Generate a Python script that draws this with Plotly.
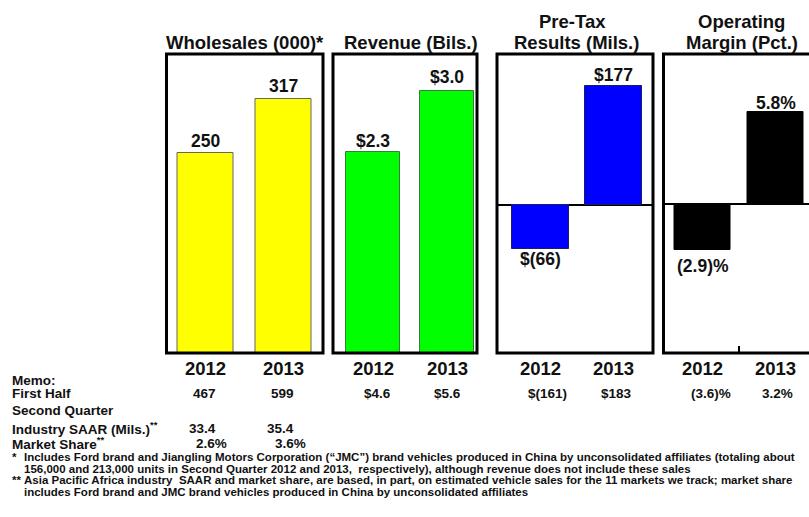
import plotly.graph_objects as go

W, H = 809, 517
FONT = "Liberation Sans, Arial, sans-serif"

# ---------------- data ----------------
years = ["2012", "2013"]
wholesales = [250, 317]
revenue = [2.3, 3.0]
pretax = [-66, 177]
margin = [-2.9, 5.8]

wholesales_text = ["250", "317"]
revenue_text = ["$2.3", "$3.0"]
pretax_text = ["$(66)", "$177"]
margin_text = ["(2.9)%", "5.8%"]

first_half_wholesales = ["467", "599"]
first_half_revenue = ["$4.6", "$5.6"]
first_half_pretax = ["$(161)", "$183"]
first_half_margin = ["(3.6)%", "3.2%"]

q2_saar = ["33.4", "35.4"]
q2_share = ["2.6%", "3.6%"]

titles = [["Wholesales (000)*"], ["Revenue (Bils.)"],
          ["Pre-Tax", "Results (Mils.)"], ["Operating", "Margin (Pct.)"]]
memo_labels = ["Memo:", "First Half", "Second Quarter",
               "Industry SAAR (Mils.)<sup>**</sup>", "Market Share<sup>**</sup>"]
footnote_marks = ["*", "", "**", ""]
footnotes = [
    "Includes Ford brand and Jiangling Motors Corporation (\u201cJMC\u201d) brand vehicles produced in China by unconsolidated affiliates (totaling about",
    "156,000 and 213,000 units in Second Quarter 2012 and 2013,  respectively), although revenue does not include these sales",
    "Asia Pacific Africa industry  SAAR and market share, are based, in part, on estimated vehicle sales for the 11 markets we track; market share",
    "includes Ford brand and JMC brand vehicles produced in China by unconsolidated affiliates",
]

series = [wholesales, revenue, pretax, margin]
series_text = [wholesales_text, revenue_text, pretax_text, margin_text]
first_half = [first_half_wholesales, first_half_revenue, first_half_pretax, first_half_margin]

# ---------------- layout geometry (pixels) ----------------
frames = [(166.5, 323), (333, 477), (497, 653), (663.5, 809)]
centers = [(205, 283.5), (373, 447), (540.5, 613), (702.5, 775.5)]
bar_px = [56, 54, 57, 56]
yranges = [(0, 373.75), (0, 3.42), (-220.9, 225.4), (-9.37, 9.43)]
colors = ["#FFFF00", "#00FF00", "#0000FF", "#000000"]
outline = ["#666666", "#3a7a3a", "#1a1a66", "#000000"]
TOP, BOT = 54, 353
title_pos = [[(245, 43)], [(411, 43)], [(572.5, 21), (576, 43)], [(741.5, 21), (741.5, 43)]]
label_shift = [[12, 13], [11, 14], [-10, 11], [-16, 9]]
fh_shift = [[-1, -1], [4, 0], [6.5, 3], [8.5, 2]]

fig = go.Figure()
layout = dict(width=W, height=H, margin=dict(l=0, r=0, t=0, b=0),
              paper_bgcolor="white", plot_bgcolor="white", showlegend=False,
              bargap=0)
annotations = []
shapes = []

def px(x):
    return x / W

def py(y):
    return 1 - y / H

for i in range(4):
    L, R = frames[i]
    c0, c1 = centers[i]
    step = c1 - c0
    r0 = -(c0 - L) / step
    r1 = r0 + (R - L) / step
    xa = "x" if i == 0 else f"x{i+1}"
    ya = "y" if i == 0 else f"y{i+1}"
    xkey = "xaxis" if i == 0 else f"xaxis{i+1}"
    ykey = "yaxis" if i == 0 else f"yaxis{i+1}"
    fig.add_trace(go.Bar(
        x=[0, 1], y=series[i], width=bar_px[i] / step,
        marker=dict(color=colors[i], line=dict(color=outline[i], width=1)),
        xaxis=xa, yaxis=ya, hoverinfo="skip"))
    layout[xkey] = dict(domain=[px(L), px(R)], range=[r0, r1], showgrid=False,
                        zeroline=False, showticklabels=False, ticks="",
                        fixedrange=True, anchor=ya)
    layout[ykey] = dict(domain=[py(BOT), py(TOP)], range=list(yranges[i]),
                        showgrid=False, showticklabels=False, ticks="",
                        zeroline=(i >= 2), zerolinecolor="black", zerolinewidth=2,
                        fixedrange=True, anchor=xa)
    # value labels
    for j in range(2):
        annotations.append(dict(
            x=j, y=series[i][j], xref=xa, yref=ya, text=series_text[i][j],
            showarrow=False, yanchor="middle", yshift=label_shift[i][j],
            font=dict(family=FONT, size=17.5, color="#111111", weight="bold")))
        annotations.append(dict(
            x=j, y=py(368), xref=xa, yref="paper", text=years[j],
            showarrow=False, yanchor="middle",
            font=dict(family=FONT, size=18.5, color="#111111", weight="bold")))
        annotations.append(dict(
            x=j, y=py(393), xref=xa, yref="paper", text=first_half[i][j],
            showarrow=False, yanchor="middle", xshift=fh_shift[i][j],
            font=dict(family=FONT, size=13.5, color="#111111", weight="bold")))
    # titles
    for t, (tx, ty) in zip(titles[i], title_pos[i]):
        annotations.append(dict(
            x=px(tx), y=py(ty), xref="paper", yref="paper", text=t,
            showarrow=False, xanchor="center", yanchor="middle",
            font=dict(family=FONT, size=18.5, color="#111111", weight="bold")))
    # frame
    if i < 3:
        shapes.append(dict(type="rect", xref="paper", yref="paper",
                           x0=px(L), x1=px(R), y0=py(BOT), y1=py(TOP),
                           line=dict(color="black", width=3), layer="above"))
    else:
        for (x0, y0, x1, y1) in [(L, TOP, L, BOT), (L - 1.5, TOP, R + 2, TOP),
                                 (L - 1.5, BOT, R + 2, BOT)]:
            shapes.append(dict(type="line", xref="paper", yref="paper",
                               x0=px(x0), x1=px(x1), y0=py(y0), y1=py(y1),
                               line=dict(color="black", width=3), layer="above"))
        shapes.append(dict(type="line", xref=xa, yref="paper",
                           x0=0.5, x1=0.5, y0=py(BOT), y1=py(BOT - 7),
                           line=dict(color="black", width=2), layer="above"))

# second quarter memo values (under wholesales)
saar_shift = [-3, -3.5]
share_shift = [6, 6.5]
for j in range(2):
    annotations.append(dict(x=j, y=py(428), xref="x", yref="paper", text=q2_saar[j],
                            showarrow=False, yanchor="middle", xshift=saar_shift[j],
                            font=dict(family=FONT, size=13.5, color="#111111", weight="bold")))
    annotations.append(dict(x=j, y=py(443), xref="x", yref="paper", text=q2_share[j],
                            showarrow=False, yanchor="middle", xshift=share_shift[j],
                            font=dict(family=FONT, size=13.5, color="#111111", weight="bold")))

# memo labels
memo_y = [380.5, 393.5, 410, 427.5, 443]
for t, yy in zip(memo_labels, memo_y):
    annotations.append(dict(x=px(10), y=py(yy), xref="paper", yref="paper", text=t,
                            showarrow=False, xanchor="left", yanchor="middle",
                            font=dict(family=FONT, size=13.5, color="#111111", weight="bold")))

# footnotes
foot_y = [456.5, 468.5, 480, 491.5]
for m, t, yy in zip(footnote_marks, footnotes, foot_y):
    if m:
        annotations.append(dict(x=px(10), y=py(yy), xref="paper", yref="paper", text=m,
                                showarrow=False, xanchor="left", yanchor="middle",
                                font=dict(family=FONT, size=11.5, color="#111111", weight="bold")))
    annotations.append(dict(x=px(22), y=py(yy), xref="paper", yref="paper", text=t,
                            showarrow=False, xanchor="left", yanchor="middle",
                            font=dict(family=FONT, size=11.5, color="#111111", weight="bold")))

layout["annotations"] = annotations
layout["shapes"] = shapes
fig.update_layout(**layout)
fig.write_html("out.html", config={"displayModeBar": False},
               post_script="document.body.style.margin='0';document.body.style.overflow='hidden';")
